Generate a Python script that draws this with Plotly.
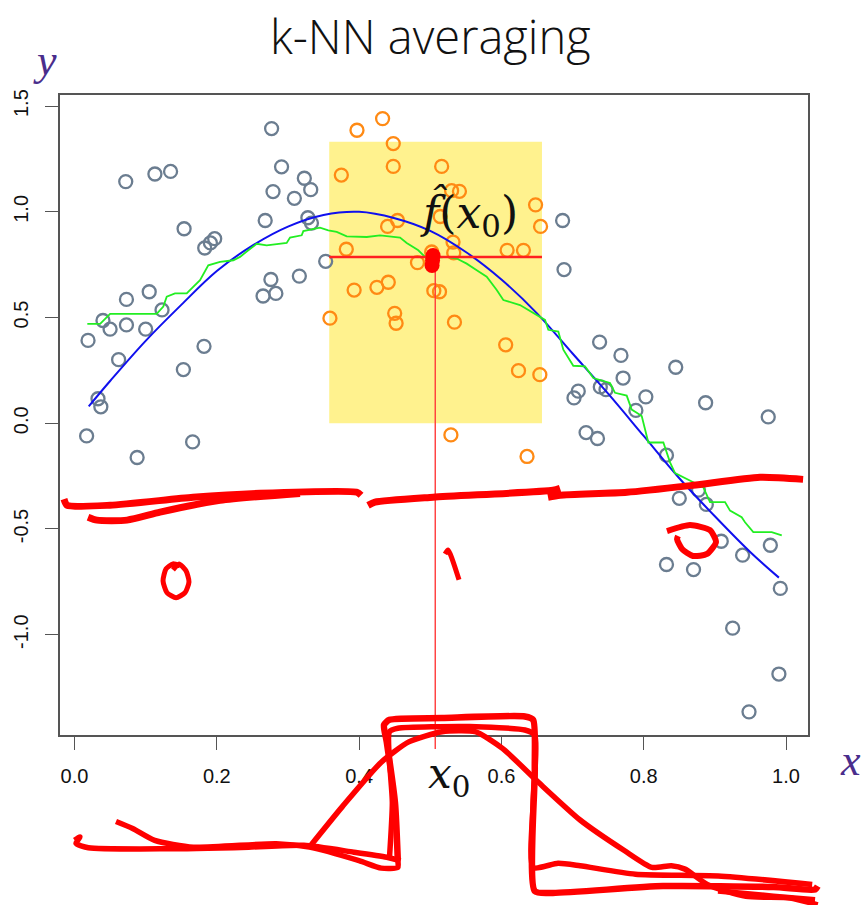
import plotly.graph_objects as go

W, H = 864, 905

# ---- observations outside the neighbourhood window (grey) ----
gray_x = [0.277, 0.072, 0.113, 0.135, 0.291, 0.323, 0.332, 0.279, 0.309, 0.154,
          0.268, 0.328, 0.333, 0.183, 0.191, 0.197, 0.353, 0.276, 0.316, 0.265,
          0.283, 0.073, 0.105, 0.123, 0.040, 0.050, 0.073, 0.100, 0.019, 0.062,
          0.182, 0.153, 0.033, 0.037, 0.017, 0.166, 0.088,
          0.686, 0.688, 0.738, 0.768, 0.845, 0.771, 0.708, 0.702, 0.739, 0.747,
          0.803, 0.789, 0.887, 0.975, 0.719, 0.735, 0.832, 0.850, 0.877, 0.888,
          0.909, 0.978, 0.939, 0.832, 0.870, 0.992, 0.925, 0.990, 0.948]
gray_y = [1.394, 1.143, 1.179, 1.191, 1.213, 1.159, 1.105, 1.096, 1.064, 0.920,
          0.959, 0.972, 0.947, 0.829, 0.853, 0.873, 0.766, 0.680, 0.696, 0.602,
          0.614, 0.586, 0.622, 0.536, 0.486, 0.445, 0.465, 0.445, 0.392, 0.301,
          0.364, 0.254, 0.116, 0.078, -0.060, -0.088, -0.162,
          0.959, 0.727, 0.384, 0.321, 0.265, 0.214, 0.152, 0.120, 0.172, 0.159,
          0.125, 0.061, 0.097, 0.030, -0.044, -0.072, -0.151, -0.355, -0.316, -0.384,
          -0.558, -0.577, -0.624, -0.668, -0.692, -0.781, -0.969, -1.186, -1.365]

# ---- the k nearest neighbours of x0 (orange) ----
orange_x = [0.433, 0.397, 0.448, 0.448, 0.516, 0.375, 0.530, 0.541, 0.648, 0.655,
            0.514, 0.454, 0.440, 0.382, 0.532, 0.533, 0.502, 0.608, 0.631, 0.482,
            0.393, 0.425, 0.441, 0.505, 0.513, 0.359, 0.450, 0.452, 0.534, 0.606,
            0.624, 0.654, 0.529, 0.636]
orange_y = [1.441, 1.386, 1.323, 1.215, 1.215, 1.174, 1.100, 1.097, 1.033, 0.931,
            0.978, 0.959, 0.931, 0.823, 0.857, 0.806, 0.810, 0.818, 0.818, 0.760,
            0.630, 0.643, 0.667, 0.627, 0.622, 0.497, 0.520, 0.473, 0.478, 0.371,
            0.249, 0.230, -0.055, -0.157]

# ---- true regression function (blue) ----
truth_x = [0.02, 0.05, 0.10, 0.15, 0.20, 0.25, 0.30, 0.35, 0.40, 0.45, 0.50,
           0.55, 0.60, 0.65, 0.70, 0.75, 0.80, 0.85, 0.90, 0.95, 0.99]
truth_y = [0.08, 0.20, 0.39, 0.56, 0.72, 0.84, 0.93, 0.985, 1.00, 0.97, 0.91,
           0.81, 0.68, 0.52, 0.33, 0.14, -0.06, -0.26, -0.44, -0.61, -0.73]

# ---- k-NN average fit (green) ----
knn_x = [0.018, 0.036, 0.050, 0.1155, 0.1248, 0.1296, 0.1412, 0.1577, 0.1647, 0.1764,
         0.188, 0.2045, 0.2232, 0.2326, 0.2443, 0.2561, 0.2701, 0.2982, 0.3029, 0.3193,
         0.3216, 0.345, 0.3567, 0.3685, 0.3826, 0.4107, 0.4294, 0.4575, 0.4669, 0.4832,
         0.495, 0.5231, 0.5372, 0.5512, 0.5653, 0.5793, 0.5934, 0.6027, 0.6261, 0.6448,
         0.6613, 0.6659, 0.680, 0.687, 0.701, 0.7175, 0.7292, 0.7526, 0.7597, 0.7761,
         0.7831, 0.7902, 0.7972, 0.8065, 0.8276, 0.837, 0.844, 0.8697, 0.8838, 0.8932,
         0.9143, 0.9213, 0.9377, 0.9424, 0.954, 0.9799, 0.994]
knn_y = [0.470, 0.470, 0.517, 0.517, 0.552, 0.599, 0.614, 0.614, 0.638, 0.677,
         0.747, 0.763, 0.771, 0.787, 0.818, 0.849, 0.841, 0.853, 0.878, 0.889,
         0.909, 0.925, 0.912, 0.905, 0.884, 0.881, 0.889, 0.878, 0.853, 0.818,
         0.779, 0.787, 0.779, 0.755, 0.724, 0.693, 0.630, 0.583, 0.559, 0.520,
         0.489, 0.442, 0.434, 0.348, 0.272, 0.269, 0.214, 0.191, 0.144, 0.131,
         0.065, 0.050, 0.034, -0.091, -0.091, -0.185, -0.236, -0.279, -0.303, -0.373,
         -0.373, -0.413, -0.444, -0.468, -0.515, -0.515, -0.530]

# query point, its estimate and the neighbourhood window
x0 = 0.507
f_hat = 0.787
window_x = [0.358, 0.657]
window_y = [0.0, 1.331]

x_ticks = [0.0, 0.2, 0.4, 0.6, 0.8, 1.0]
x_tick_text = ["0.0", "0.2", "0.4", "0.6", "0.8", "1.0"]
y_ticks = [-1.0, -0.5, 0.0, 0.5, 1.0, 1.5]
y_tick_text = ["-1.0", "-0.5", "0.0", "0.5", "1.0", "1.5"]

# pen annotations in data units: (x list, y list, width)
pen_strokes = [
    ([-0.0148, -0.0105, 0.0499, 0.1665, 0.2607, 0.397, 0.4027],
     [-0.359, -0.3876, -0.3876, -0.350, -0.331, -0.3264, -0.3405], 7),
    ([0.019, 0.0316, 0.0738, 0.1202, 0.2045, 0.3169],
     [-0.444, -0.458, -0.458, -0.4205, -0.3645, -0.3317], 7),
    ([0.4125, 0.4223, 0.5039, 0.6725, 0.6824],
     [-0.3886, -0.3734, -0.350, -0.3170, -0.3076], 7),
    ([0.6655, 0.6824, 0.7765, 0.8693, 0.9634, 1.024],
     [-0.350, -0.3405, -0.3264, -0.2935, -0.2558, -0.2653], 7),
    ([0.1384, 0.1469, 0.1567, 0.1609, 0.1553, 0.1427, 0.13, 0.1244, 0.1286, 0.1384, 0.1483],
     [-0.6933, -0.665, -0.698, -0.7498, -0.8015, -0.825, -0.8015, -0.745, -0.6886, -0.665, -0.6745], 5),
    ([0.5208, 0.5250, 0.5404],
     [-0.618, -0.599, -0.7404], 5),
    ([0.8327, 0.865, 0.8932, 0.9016, 0.889, 0.8693, 0.8539, 0.8468, 0.8482],
     [-0.510, -0.4817, -0.5052, -0.5616, -0.618, -0.6275, -0.5945, -0.5475, -0.5334], 6),
    ([0.0001, 0.0077, 0.0021, 0.0195, 0.1282, 0.2447, 0.3224, 0.3923, 0.4388, 0.4583],
     [-1.9727, -1.9563, -1.9868, -2.0075, -2.0127, -2.0047, -1.9962, -2.0287, -2.0527, -2.0687], 5.5),
    ([0.0583, 0.0817, 0.1127, 0.1671, 0.2835, 0.3301, 0.3999, 0.4311, 0.4544, 0.4544],
     [-1.8834, -1.9163, -1.9727, -2.0047, -1.9883, -2.0047, -2.0687, -2.104, -2.1007, -2.0687], 5.5),
    ([0.4544, 0.4504, 0.4388, 0.435, 0.4427, 0.5165, 0.633, 0.6446, 0.6469, 0.6469,
      0.6718, 0.8271, 0.9824, 1.0408, 1.0446],
     [-2.0687, -1.794, -1.507, -1.4266, -1.4026, -1.3942, -1.3867, -1.4026, -1.6355, -2.2126,
      -2.2211, -2.1891, -2.1938, -2.2051, -2.1891], 6.5),
    ([0.4427, 0.4467, 0.4427, 0.4544, 0.5553, 0.633, 0.6469, 0.6446, 0.6446, 0.6796,
      0.7105, 0.7883, 0.9047, 1.0368],
     [-2.0527, -1.7959, -1.4586, -1.4426, -1.4346, -1.4506, -1.4746, -1.7959, -2.1007, -2.0809,
      -2.0927, -2.1326, -2.1411, -2.1811], 5.5),
    ([0.3301, 0.3767, 0.4311, 0.4698, 0.5165, 0.563, 0.6019, 0.6524, 0.7106, 0.7727,
      0.8117, 0.8388, 0.858, 0.8893, 0.9436, 1.0058, 1.0446],
     [-2.0047, -1.8119, -1.603, -1.507, -1.4586, -1.4586, -1.539, -1.6994, -1.8763, -2.0207,
      -2.1007, -2.0927, -2.1087, -2.1811, -2.2371, -2.2455, -2.2775], 5.5),
    ([0.9044, 0.9824, 1.0408],
     [-2.2126, -2.2366, -2.2535], 5.5),
]
pen_dot_x = [0.5039, 0.5032, 0.5025]
pen_dot_y = [0.793, 0.770, 0.746]
rule_bottom = -1.54

# ---- geometry of the main panel ----
x_dom = [60 / W, 808 / W]
y_dom = [171 / H, 815 / H]
x_rng = [-0.0204, 1.0309]
y_rng = [-1.4741, 1.5550]


def full_range(rng, dom):
    span = (rng[1] - rng[0]) / (dom[1] - dom[0])
    lo = rng[0] - dom[0] * span
    return [lo, lo + span]


GRAY = "#6b7d90"
ORANGE = "#ff8a14"
RED = "#ff0000"
PURPLE = "#4a2d8c"
TICK_FONT = dict(family="Liberation Sans, Arial, sans-serif", size=20, color="#111")

fig = go.Figure()

fig.add_shape(type="rect", xref="x", yref="y",
              x0=window_x[0], x1=window_x[1], y0=window_y[0], y1=window_y[1],
              fillcolor="#fff28e", line=dict(width=0), layer="below")

fig.add_trace(go.Scatter(x=gray_x, y=gray_y, mode="markers",
                         marker=dict(symbol="circle-open", size=13, color=GRAY,
                                     line=dict(width=2.3, color=GRAY)),
                         showlegend=False, hoverinfo="skip"))
fig.add_trace(go.Scatter(x=orange_x, y=orange_y, mode="markers",
                         marker=dict(symbol="circle-open", size=13, color=ORANGE,
                                     line=dict(width=2.3, color=ORANGE)),
                         showlegend=False, hoverinfo="skip"))
fig.add_trace(go.Scatter(x=truth_x, y=truth_y, mode="lines", line_shape="spline",
                         line=dict(color="#1010ee", width=2),
                         showlegend=False, hoverinfo="skip"))
fig.add_trace(go.Scatter(x=knn_x, y=knn_y, mode="lines",
                         line=dict(color="#22ee22", width=1.8),
                         showlegend=False, hoverinfo="skip"))
fig.add_trace(go.Scatter(x=window_x, y=[f_hat, f_hat], mode="lines",
                         line=dict(color="#ff2020", width=2.5),
                         showlegend=False, hoverinfo="skip"))

# overlay layer spanning the whole page, in the same data units
fig.add_trace(go.Scatter(x=[x0, x0], y=[f_hat, rule_bottom], mode="lines",
                         line=dict(color="#ff3a3a", width=1.4),
                         xaxis="x2", yaxis="y2", showlegend=False, hoverinfo="skip"))
for sx, sy, w in pen_strokes:
    fig.add_trace(go.Scatter(x=sx, y=sy, mode="lines",
                             line=dict(color=RED, width=w, shape="spline", smoothing=0.6),
                             xaxis="x2", yaxis="y2", showlegend=False, hoverinfo="skip"))
fig.add_trace(go.Scatter(x=pen_dot_x, y=pen_dot_y, mode="markers",
                         marker=dict(color=RED, size=15),
                         xaxis="x2", yaxis="y2", showlegend=False, hoverinfo="skip"))

axis_common = dict(showline=True, mirror=True, linecolor="#555", linewidth=1.5,
                   ticks="outside", ticklen=13, tickwidth=1.3, tickcolor="#555",
                   showgrid=False, zeroline=False, tickfont=TICK_FONT,
                   ticklabelstandoff=9)

fig.update_layout(
    width=W, height=H,
    margin=dict(l=0, r=0, t=0, b=0),
    paper_bgcolor="white",
    plot_bgcolor="rgba(0,0,0,0)",
    xaxis=dict(domain=x_dom, range=x_rng, tickvals=x_ticks, ticktext=x_tick_text,
               anchor="y", **axis_common),
    yaxis=dict(domain=y_dom, range=y_rng, tickvals=y_ticks, ticktext=y_tick_text,
               tickangle=-90, anchor="x", **axis_common),
    xaxis2=dict(domain=[0, 1], range=full_range(x_rng, x_dom), visible=False,
                anchor="y2", fixedrange=True),
    yaxis2=dict(domain=[0, 1], range=full_range(y_rng, y_dom), visible=False,
                anchor="x2", fixedrange=True),
)

serif = "DejaVu Serif, Liberation Serif, serif"
fig.add_annotation(text="k-NN averaging", xref="paper", yref="paper",
                   x=430 / W, y=1 - 31 / H, xanchor="center", yanchor="middle",
                   showarrow=False,
                   font=dict(family="Open Sans, Liberation Sans, sans-serif", size=47,
                             color="#111", weight=300))
fig.add_annotation(text="y", xref="paper", yref="paper", x=45 / W, y=1 - 56 / H,
                   xanchor="center", yanchor="middle", showarrow=False,
                   font=dict(family="Liberation Serif, serif", size=44, color=PURPLE,
                             style="italic"))
fig.add_annotation(text="x", xref="paper", yref="paper", x=850 / W, y=1 - 760 / H,
                   xanchor="center", yanchor="middle", showarrow=False,
                   font=dict(family="Liberation Serif, serif", size=44, color=PURPLE,
                             style="italic"))
fig.add_annotation(text="<i>f\u0302</i>(<i>x</i><sub>0</sub>)", xref="x", yref="y",
                   x=0.5545, y=0.99, xanchor="center", yanchor="middle", showarrow=False,
                   font=dict(family=serif, size=44, color="#111"))
fig.add_annotation(text="<i>x</i><sub>0</sub>", xref="x2", yref="y2",
                   x=x0, y=-1.67, xshift=14, xanchor="center", yanchor="middle",
                   showarrow=False,
                   font=dict(family=serif, size=42, color="#111"))

fig.write_html("out.html")
